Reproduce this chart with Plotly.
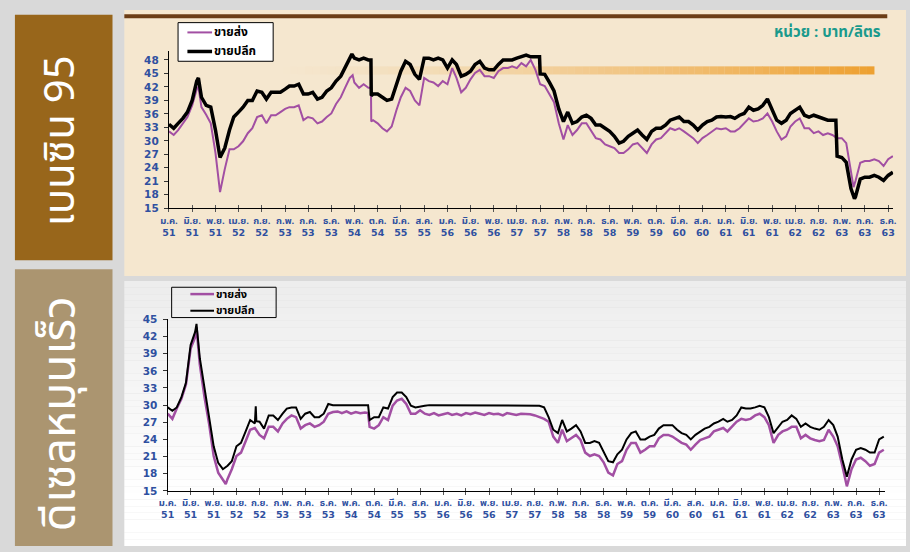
import pandas as pd
import plotly.graph_objects as go

W, H = 910, 552

# ---------------------------------------------------------------- data
months = pd.date_range("2008-01-01", periods=157, freq="MS")

tick_months = ["ม.ค.", "มิ.ย.", "พ.ย.", "เม.ย.", "ก.ย.", "ก.พ.", "ก.ค.", "ธ.ค.",
               "พ.ค.", "ต.ค.", "มี.ค.", "ส.ค.",
               "ม.ค.", "มิ.ย.", "พ.ย.", "เม.ย.", "ก.ย.", "ก.พ.", "ก.ค.", "ธ.ค.",
               "พ.ค.", "ต.ค.", "มี.ค.", "ส.ค.",
               "ม.ค.", "มิ.ย.", "พ.ย.", "เม.ย.", "ก.ย.", "ก.พ.", "ก.ค.", "ธ.ค."]
tick_years = ["51", "51", "51", "52", "52", "53", "53", "53", "54", "54", "55", "55",
              "56", "56", "56", "57", "57", "58", "58", "58", "59", "59", "60", "60",
              "61", "61", "61", "62", "62", "63", "63", "63"]

# Gasoline 95, wholesale (ขายส่ง), baht/litre, monthly
gas95_wholesale = [
    32.1, 31.3, 32.4, 33.9, 35.3, 37.9, 41.5, 37.5, 35.8, 33.9,
    27.3, 18.6, 23.7, 28.1, 28.1, 28.8, 29.9, 31.7, 32.8, 35.3,
    35.7, 33.9, 35.7, 35.7, 36.4, 37.1, 37.5, 37.5, 37.9, 34.6,
    35.3, 35.0, 33.9, 34.3, 35.3, 36.1, 38.2, 39.7, 41.8, 44.0,
    43.0, 41.8, 42.6, 41.8, 34.6, 33.9, 32.8, 32.1, 33.2, 36.8,
    39.7, 41.8, 41.1, 39.0, 37.9, 44.0, 43.3, 43.0, 42.2, 43.3,
    42.6, 46.2, 44.0, 40.8, 41.8, 43.7, 45.1, 45.8, 44.4, 44.4,
    44.0, 45.5, 46.2, 46.2, 46.6, 46.2, 47.3, 46.6, 48.0, 45.8,
    42.6, 42.2, 40.4, 38.6, 33.9, 30.3, 33.5, 31.3, 32.4, 33.9,
    33.9, 32.1, 30.6, 30.3, 29.2, 28.8, 28.4, 27.3, 27.3, 28.1,
    29.2, 29.5, 28.4, 27.3, 29.2, 30.3, 30.6, 31.7, 32.8, 32.4,
    32.8, 32.1, 31.3, 30.6, 29.5, 30.6, 31.3, 32.1, 32.8, 32.6,
    32.8, 32.1, 32.1, 32.8, 33.9, 35.0, 34.3, 34.5, 35.0, 36.1,
    34.3, 32.1, 30.3, 31.0, 33.2, 34.3, 35.0, 32.8, 32.8, 31.7,
    32.1, 31.3, 31.7, 31.3, 30.6, 30.6, 29.5, 22.6, 21.1, 25.1,
    25.5, 25.5, 25.9, 25.5, 24.4, 25.9, 26.6,
]
gas95_wholesale_extra = {"2008-07-12": 42.0, "2011-04-20": 44.6, "2011-08-18": 41.8,
                         "2011-08-20": 34.3, "2020-04-18": 19.7}

# Gasoline 95, retail (ขายปลีก)
gas95_retail = [
    33.7, 32.8, 33.9, 35.0, 36.4, 39.0, 43.3, 39.7, 37.9, 37.5,
    32.4, 26.3, 28.4, 32.4, 35.3, 36.4, 37.5, 39.0, 39.0, 41.1,
    40.8, 39.3, 40.8, 40.8, 40.8, 41.5, 42.2, 42.2, 42.6, 40.4,
    40.4, 40.8, 39.3, 39.7, 41.1, 41.8, 43.3, 44.4, 46.2, 48.4,
    48.4, 48.0, 48.4, 48.0, 40.4, 40.4, 39.7, 39.0, 39.3, 42.6,
    45.5, 47.7, 47.0, 44.8, 43.7, 48.4, 48.4, 48.0, 48.4, 48.0,
    46.2, 48.0, 47.0, 44.4, 44.8, 45.5, 47.0, 47.7, 46.2, 45.8,
    45.8, 47.0, 48.0, 48.0, 48.0, 48.4, 48.7, 49.1, 48.7, 48.7,
    44.9, 44.8, 43.0, 41.1, 37.1, 34.3, 36.4, 33.9, 34.3, 35.3,
    35.7, 35.0, 33.5, 33.5, 32.8, 32.1, 31.0, 29.5, 29.9, 31.0,
    31.7, 32.4, 31.3, 30.3, 32.1, 32.8, 32.8, 33.5, 34.6, 35.0,
    35.3, 34.3, 34.3, 33.5, 32.4, 33.5, 34.3, 34.6, 35.3, 35.4,
    35.3, 35.4, 35.0, 35.7, 36.1, 37.5, 36.8, 37.1, 37.9, 39.3,
    37.1, 34.6, 33.9, 34.6, 36.1, 36.8, 37.5, 35.7, 35.3, 35.7,
    35.3, 35.0, 34.6, 34.6, 26.6, 26.3, 25.2, 19.4, 17.6, 21.5,
    21.9, 21.9, 22.3, 21.9, 21.2, 22.3, 23.0,
]
gas95_retail_extra = {"2008-07-12": 44.0, "2011-04-15": 49.3, "2011-08-18": 48.0,
                      "2011-08-20": 40.1, "2014-08-28": 48.7, "2019-12-24": 34.6,
                      "2020-04-24": 17.1}

# High-speed diesel, wholesale (ขายส่ง)
diesel_wholesale = [
    28.5, 27.6, 29.4, 31.1, 33.6, 39.9, 41.9, 37.1, 31.4, 26.8,
    21.1, 18.2, 16.8, 17.1, 18.8, 21.1, 21.7, 23.7, 25.7, 26.0,
    24.8, 24.2, 26.2, 26.2, 25.4, 26.8, 27.6, 28.2, 27.9, 25.9,
    26.5, 26.8, 26.2, 26.5, 27.1, 28.5, 28.8, 28.9, 28.6, 28.9,
    28.5, 28.8, 28.6, 28.7, 26.2, 25.9, 26.5, 27.9, 27.4, 29.9,
    30.8, 31.1, 30.2, 28.5, 28.5, 29.1, 28.5, 28.3, 28.6, 28.2,
    28.4, 28.6, 28.3, 28.5, 28.2, 28.6, 28.4, 28.7, 28.5, 28.3,
    28.6, 28.4, 28.5, 28.2, 28.6, 28.4, 28.3, 28.5, 28.5, 28.4,
    28.2, 27.9, 27.6, 27.1, 24.5, 23.4, 25.7, 23.7, 24.2, 24.8,
    23.9, 21.7, 21.1, 21.4, 21.1, 20.0, 18.2, 17.7, 19.7, 20.2,
    22.2, 23.4, 23.4, 21.7, 22.2, 22.8, 22.8, 24.2, 24.8, 24.8,
    24.5, 23.9, 23.4, 23.1, 22.2, 23.1, 23.9, 24.2, 24.5, 25.4,
    25.7, 26.0, 25.4, 26.2, 27.1, 27.6, 27.4, 27.6, 28.2, 28.5,
    27.9, 26.5, 23.4, 24.8, 25.4, 25.7, 26.2, 26.2, 24.2, 24.8,
    24.2, 23.9, 23.7, 23.9, 25.7, 24.5, 22.8, 19.4, 15.8, 18.8,
    20.5, 20.8, 20.2, 19.4, 19.7, 21.7, 22.2,
]
diesel_wholesale_extra = {"2008-07-10": 43.6, "2009-01-20": 16.2, "2011-08-22": 28.6}

# High-speed diesel, retail (ขายปลีก)
diesel_retail = [
    29.6, 29.0, 29.6, 31.4, 33.9, 40.5, 42.8, 38.2, 33.1, 27.9,
    22.8, 19.9, 18.8, 19.4, 20.2, 22.8, 23.4, 25.4, 27.4, 26.8,
    27.1, 25.9, 28.2, 28.2, 27.4, 28.5, 29.4, 29.6, 29.6, 27.6,
    28.5, 28.8, 27.9, 27.9, 28.5, 30.2, 30.0, 30.0, 30.0, 30.0,
    30.0, 30.0, 30.0, 30.0, 27.4, 27.9, 27.9, 29.6, 29.4, 31.4,
    32.2, 32.2, 31.4, 29.9, 29.6, 29.8, 29.9, 30.0, 30.0, 30.0,
    30.0, 30.0, 30.0, 30.0, 30.0, 30.0, 30.0, 30.0, 30.0, 30.0,
    30.0, 30.0, 30.0, 30.0, 30.0, 30.0, 30.0, 30.0, 30.0, 30.0,
    30.0, 29.9, 29.6, 27.9, 25.7, 25.1, 27.4, 25.4, 25.9, 26.5,
    25.4, 23.4, 23.4, 23.7, 23.4, 21.7, 20.2, 20.0, 21.4, 22.2,
    24.0, 25.1, 25.4, 24.0, 24.0, 24.5, 24.8, 25.9, 26.5, 26.5,
    26.5, 25.7, 25.1, 24.8, 24.0, 24.8, 25.4, 25.9, 26.2, 26.8,
    27.1, 27.6, 27.1, 27.4, 28.2, 29.6, 29.4, 29.4, 29.6, 29.9,
    29.6, 27.9, 25.1, 26.2, 27.1, 27.4, 28.2, 27.6, 26.2, 26.8,
    26.2, 25.9, 25.7, 26.2, 27.4, 26.5, 24.5, 20.5, 17.5, 20.5,
    22.2, 22.5, 22.2, 21.7, 21.7, 24.0, 24.5,
]
diesel_retail_extra = {"2008-07-10": 44.2, "2009-08-07": 29.8, "2009-08-11": 27.2,
                       "2011-08-22": 30.0}

series_names = ["ขายส่ง", "ขายปลีก"]
panel_titles = ["เบนซิน 95", "ดีเซลหมุนเร็ว"]
unit_text = "หน่วย : บาท/ลิตร"


def build(values, extra):
    s = pd.Series(values, index=months)
    e = pd.Series(list(extra.values()), index=pd.to_datetime(list(extra.keys())))
    return pd.concat([s, e]).sort_index()


# ---------------------------------------------------------------- helpers
def px(x):
    return x / W


def py(y):
    return 1 - y / H


PURPLE = "#a24fa3"
BLUE = "#2f50a0"
TEXT_FONT = "Tahoma, 'Noto Sans Thai', 'Noto Sans', 'DejaVu Sans', sans-serif"

fig = go.Figure()

g_wh = build(gas95_wholesale, gas95_wholesale_extra)
g_rt = build(gas95_retail, gas95_retail_extra)
d_wh = build(diesel_wholesale, diesel_wholesale_extra)
d_rt = build(diesel_retail, diesel_retail_extra)

TOP_WH_W, TOP_RT_W = 2, 3.5
BOT_WH_W, BOT_RT_W = 2.5, 2

fig.add_trace(go.Scatter(x=g_wh.index, y=g_wh.values, mode="lines", name=series_names[0],
                         line=dict(color=PURPLE, width=TOP_WH_W), xaxis="x", yaxis="y",
                         hoverinfo="skip"))
fig.add_trace(go.Scatter(x=g_rt.index, y=g_rt.values, mode="lines", name=series_names[1],
                         line=dict(color="black", width=TOP_RT_W), xaxis="x", yaxis="y",
                         hoverinfo="skip"))
fig.add_trace(go.Scatter(x=d_wh.index, y=d_wh.values, mode="lines", name=series_names[0],
                         line=dict(color=PURPLE, width=BOT_WH_W), xaxis="x2", yaxis="y2",
                         hoverinfo="skip"))
fig.add_trace(go.Scatter(x=d_rt.index, y=d_rt.values, mode="lines", name=series_names[1],
                         line=dict(color="black", width=BOT_RT_W), xaxis="x2", yaxis="y2",
                         hoverinfo="skip"))
# the year-label axes need a (transparent) trace of their own to be drawn
fig.add_trace(go.Scatter(x=g_rt.index, y=g_rt.values, mode="lines", xaxis="x3",
                         yaxis="y", line=dict(width=0, color="rgba(0,0,0,0)"),
                         hoverinfo="skip"))
fig.add_trace(go.Scatter(x=d_rt.index, y=d_rt.values, mode="lines", xaxis="x4",
                         yaxis="y2", line=dict(width=0, color="rgba(0,0,0,0)"),
                         hoverinfo="skip"))

tick_vals = list(months[::5])

# month names sit on the main axis (outside ticks), years on an overlay axis
# that also supplies the inner half of the crossing tick marks
xmonth = dict(type="date", tickvals=tick_vals, ticktext=tick_months, showgrid=False,
              zeroline=False, showline=True, linecolor="black", linewidth=1.3,
              ticks="outside", ticklen=3, tickcolor="#555", tickwidth=1,
              tickangle=0, ticklabelstandoff=0,
              tickfont=dict(family=TEXT_FONT, size=9.5, color=BLUE, weight="bold"))
xyear = dict(type="date", tickvals=tick_vals, ticktext=tick_years, showgrid=False,
             zeroline=False, showline=False, ticks="inside", ticklen=3,
             tickcolor="#555", tickwidth=1, tickangle=0, ticklabelstandoff=17,
             tickfont=dict(family="'DejaVu Sans', sans-serif", size=9.5, color=BLUE,
                           weight="bold"))
ycommon = dict(showgrid=False, zeroline=False, showline=True, linecolor="black",
               linewidth=1.3, ticks="outside", ticklen=4, tickcolor="#333",
               ticklabelstandoff=3,
               tickfont=dict(family="'DejaVu Sans', sans-serif", size=10.5, color=BLUE,
                             weight="bold"))

top_range = ["2008-01-01", "2021-01-03"]
bot_range = ["2008-01-01", "2021-01-09"]

shapes = []
# page panels
shapes.append(dict(type="rect", xref="paper", yref="paper", x0=px(117), x1=px(910),
                   y0=py(276), y1=py(4), fillcolor="#f5e7cf", line=dict(width=0),
                   layer="below"))
n_strip = 40
for i in range(n_strip):
    y0 = 281 + (552 - 281) * i / n_strip
    y1 = 281 + (552 - 281) * (i + 1) / n_strip
    t = (i + 0.5) / n_strip
    c = int(237 + 18 * min(1.0, t * 1.25))
    shapes.append(dict(type="rect", xref="paper", yref="paper", x0=px(117), x1=px(910),
                       y0=py(y1), y1=py(y0), fillcolor=f"rgb({c},{c},{c})",
                       line=dict(width=0), layer="below"))
# side title boxes
shapes.append(dict(type="rect", xref="paper", yref="paper", x0=px(6), x1=px(105),
                   y0=py(260), y1=py(9), fillcolor="#98661b", line=dict(width=0),
                   layer="below"))
shapes.append(dict(type="rect", xref="paper", yref="paper", x0=px(6), x1=px(105),
                   y0=py(552), y1=py(269), fillcolor="#ab9570", line=dict(width=0),
                   layer="below"))
# brown rule across the top panel
shapes.append(dict(type="rect", xref="paper", yref="paper", x0=px(117), x1=px(891),
                   y0=py(12.5), y1=py(8.5), fillcolor="#6b3d16", line=dict(width=0),
                   layer="below"))
# orange fading band
n_seg = 80
bx0, bx1 = 270, 878
for i in range(n_seg):
    xa = bx0 + (bx1 - bx0) * i / n_seg
    xb = bx0 + (bx1 - bx0) * (i + 1) / n_seg
    t = (i + 0.5) / n_seg
    a = t ** 1.4
    shapes.append(dict(type="rect", xref="paper", yref="paper", x0=px(xa), x1=px(xb),
                       y0=py(70), y1=py(61.7), fillcolor=f"rgba(237,160,48,{a:.3f})",
                       line=dict(width=0), layer="below"))

title_font = "'Noto Sans Thai', 'Noto Sans', sans-serif"
annotations = [
    dict(text=panel_titles[0], xref="paper", yref="paper", x=px(53), y=py(138),
         xanchor="center", yanchor="middle", showarrow=False, textangle=-90,
         font=dict(family=title_font, size=42, color="white")),
    dict(text=panel_titles[1], xref="paper", yref="paper", x=px(53), y=py(417),
         xanchor="center", yanchor="middle", showarrow=False, textangle=-90,
         font=dict(family=title_font, size=46, color="white")),
    dict(text=unit_text, xref="paper", yref="paper", x=px(887), y=py(27),
         xanchor="right", yanchor="middle", showarrow=False,
         font=dict(family=TEXT_FONT, size=15, color="#1a9a8c", weight="bold")),
]

# legends, drawn as boxes with sample strokes and labels
legend_specs = [
    dict(box=(171.5, 17, 268, 56.5), fill="white", rows=(27, 46.5), sx=(181, 206),
         tx=206, widths=(TOP_WH_W, TOP_RT_W), size=12),
    dict(box=(165, 287.5, 271, 318.5), fill="rgba(0,0,0,0)", rows=(294.5, 311.5),
         sx=(184, 208), tx=208, widths=(BOT_WH_W, BOT_RT_W), size=11),
]
for spec in legend_specs:
    bx_0, by_0, bx_1, by_1 = spec["box"]
    shapes.append(dict(type="rect", xref="paper", yref="paper", x0=px(bx_0), x1=px(bx_1),
                       y0=py(by_1), y1=py(by_0), fillcolor=spec["fill"],
                       line=dict(color="black", width=1), layer="above"))
    for name, color, ry, lw in zip(series_names, [PURPLE, "black"], spec["rows"],
                                   spec["widths"]):
        shapes.append(dict(type="line", xref="paper", yref="paper",
                           x0=px(spec["sx"][0]), x1=px(spec["sx"][1]),
                           y0=py(ry), y1=py(ry), line=dict(color=color, width=lw),
                           layer="above"))
        annotations.append(dict(text=name, xref="paper", yref="paper", x=px(spec["tx"]),
                                y=py(ry), xanchor="left", yanchor="middle",
                                showarrow=False,
                                font=dict(family=TEXT_FONT, size=spec["size"],
                                          color="black", weight="bold")))

fig.update_layout(
    width=W, height=H,
    margin=dict(l=0, r=0, t=0, b=0),
    paper_bgcolor="#d9d9d9",
    plot_bgcolor="rgba(0,0,0,0)",
    showlegend=False,
    xaxis=dict(xmonth, domain=[px(162.3), px(897)], range=top_range, anchor="y"),
    yaxis=dict(ycommon, domain=[py(206.7), py(46)], range=[15, 50],
               tickvals=list(range(15, 49, 3)), anchor="x"),
    xaxis2=dict(xmonth, domain=[px(161), px(888.7)], range=bot_range, anchor="y2"),
    yaxis2=dict(ycommon, domain=[py(495.7), py(320.3)], range=[15, 45],
                tickvals=list(range(15, 46, 3)), anchor="x2"),
    xaxis3=dict(xyear, overlaying="x", range=top_range, anchor="y"),
    xaxis4=dict(xyear, overlaying="x2", range=bot_range, anchor="y2"),
    shapes=shapes,
    annotations=annotations,
)

fig.write_html("out.html")
